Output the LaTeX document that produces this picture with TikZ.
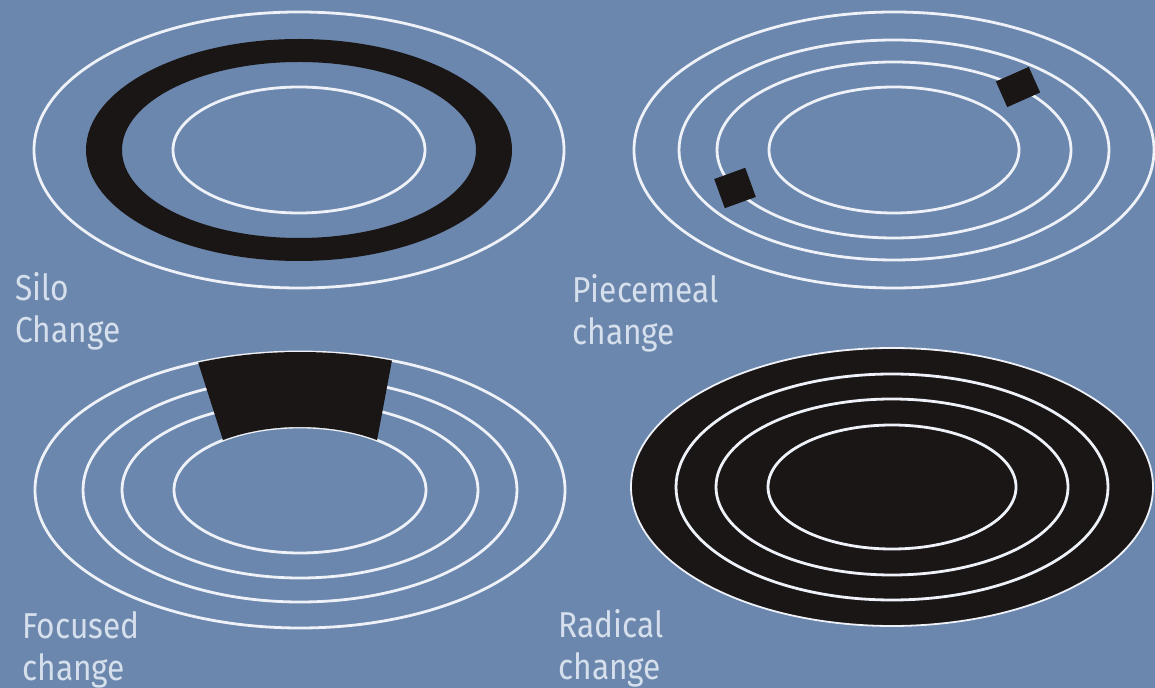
\documentclass[tikz,border=0pt]{standalone}
\usepackage{fontspec}
\setmainfont{Fira Sans}[FakeStretch=0.88]
\usetikzlibrary{positioning,calc}
\definecolor{bgblue}{HTML}{6B87AD}
\definecolor{inkblk}{HTML}{1B1616}
\definecolor{ringwht}{HTML}{EEF2F8}
\definecolor{lbltxt}{HTML}{D6DFEC}
\tikzset{
  ring/.style={draw=ringwht,line width=1.4pt},
  rim/.style={draw=ringwht,line width=0.9pt},
  blk/.style={fill=inkblk},
  chip/.style={rectangle,fill=inkblk,inner sep=0pt},
  lbl/.style={text=lbltxt,inner sep=0pt,anchor=base west,
    font=\fontsize{18}{21}\selectfont},
}

\begin{document}
\begin{tikzpicture}[x=0.5pt,y=-0.5pt]
  \fill[bgblue] (0,0) rectangle (1155,688);
  \useasboundingbox (0,0) rectangle (1155,688);

  \coordinate (cTL) at (299,150);
  \coordinate (cTR) at (894,150);
  \coordinate (cBL) at (300,490);
  \coordinate (cBR) at (892,487);

  % silo change
  \draw[ring] (cTL) ellipse [x radius=265, y radius=138];
  \fill[blk,even odd rule] (cTL) ellipse [x radius=213, y radius=111]
    (cTL) ellipse [x radius=177, y radius=88];
  \draw[ring] (cTL) ellipse [x radius=126, y radius=63];
  \node[lbl] (silo) at (15,301) {Silo};
  \node[lbl] (siloB) at ([yshift=-21pt]silo.base west) {Change};

  % piecemeal change
  \foreach \rx/\ry in {260/138,215/110,177/88,125/63}
    \draw[ring] (cTR) ellipse [x radius=\rx, y radius=\ry];
  \node[chip,rotate=24,minimum width=18pt,minimum height=14pt] (chipA) at (1018,87) {};
  \node[chip,rotate=20,minimum width=16.5pt,minimum height=15.5pt] (chipB) at (735,188) {};
  \node[lbl] (piece) at (572,303) {Piecemeal};
  \node[lbl] (pieceB) at ([yshift=-21pt]piece.base west) {change};

  % focused change
  \foreach \rx/\ry in {265/138,217/112,178/88,126/63}
    \draw[ring] (cBL) ellipse [x radius=\rx, y radius=\ry];
  \fill[blk] (cBL) ++(-112.6:265 and 138)
    arc[start angle=-112.6, end angle=-69.7, x radius=265, y radius=138]
    -- ([shift={(-52.3:126 and 63)}]cBL)
    arc[start angle=-52.3, end angle=-127.7, x radius=126, y radius=63]
    -- cycle;
  \node[lbl] (focus) at (22,638) {Focused};
  \node[lbl] (focusB) at ([yshift=-21pt]focus.base west) {change};

  % radical change
  \fill[blk] (cBR) ellipse [x radius=261, y radius=139];
  \draw[rim] (cBR) ellipse [x radius=261, y radius=139];
  \foreach \rx/\ry in {216/113,176/88,124/62}
    \draw[ring] (cBR) ellipse [x radius=\rx, y radius=\ry];
  \node[lbl] (radic) at (558,637) {Radical};
  \node[lbl] (radicB) at ([yshift=-21pt]radic.base west) {change};
\end{tikzpicture}
\end{document}
